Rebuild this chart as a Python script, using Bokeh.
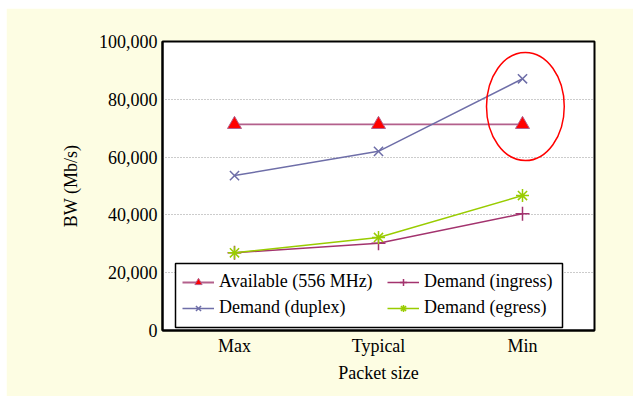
from bokeh.plotting import figure
from bokeh.models import (Legend, LegendItem, NumeralTickFormatter, FixedTicker,
                          FactorRange, Range1d, BoxAnnotation)
from bokeh.embed import file_html
from bokeh.resources import INLINE

categories = ["Max", "Typical", "Min"]
available = [71300, 71300, 71300]
duplex = [53600, 62000, 87100]
ingress = [26900, 30200, 40400]
egress = [26900, 32200, 46700]
y_ticks = [0, 20000, 40000, 60000, 80000, 100000]
highlight_x = [("Min", 0.02)]
highlight_y = [77500]
highlight_w = [0.54]
highlight_h = [37400]

FONT = "Liberation Serif"
BG = "#fdfde3"

p = figure(width=627, height=388, x_range=FactorRange(*categories, range_padding=0),
           y_range=Range1d(0, 100000), output_backend="svg", toolbar_location=None,
           min_border_left=156, min_border_right=39, min_border_top=33, min_border_bottom=66)
p.styles = {"margin-left": "6px", "margin-top": "8px"}
p.background_fill_color = "white"
p.border_fill_color = BG
p.outline_line_color = "black"
p.outline_line_width = 2

p.xgrid.grid_line_color = None
p.ygrid.grid_line_color = "#999999"
p.ygrid.grid_line_dash = "1 2"
p.ygrid.grid_line_width = 1
p.yaxis.ticker = FixedTicker(ticks=y_ticks)
p.yaxis.formatter = NumeralTickFormatter(format="0,0")

for ax in (p.xaxis[0], p.yaxis[0]):
    ax.axis_line_color = "black"
    ax.axis_line_width = 2
    ax.major_tick_line_color = None
    ax.minor_tick_line_color = None
    ax.major_tick_out = 0
    ax.major_tick_in = 0
    ax.minor_tick_out = 0
    ax.major_label_text_font = FONT
    ax.major_label_text_font_size = "18px"
    ax.major_label_text_color = "black"
    ax.axis_label_text_font = FONT
    ax.axis_label_text_font_size = "18px"
    ax.axis_label_text_font_style = "normal"
    ax.axis_label_text_color = "black"

p.xaxis.axis_label = "Packet size"
p.yaxis.axis_label = "BW (Mb/s)"
p.xaxis.major_label_standoff = 5
p.yaxis.major_label_standoff = 5
p.xaxis.axis_label_standoff = 4
p.yaxis.axis_label_standoff = 15

c_av = "#b3608c"
c_du = "#6e6ea8"
c_in = "#a3336e"
c_eg = "#99cc00"

l1 = p.line(categories, available, line_color=c_av, line_width=1.8)
m1 = p.scatter(categories, available, marker="triangle", size=14, fill_color="#ff0000",
               line_color=c_av, line_width=1)
l2 = p.line(categories, duplex, line_color=c_du, line_width=1.5)
m2 = p.scatter(categories, duplex, marker="x", size=13, line_color=c_du, line_width=1.5)
l3 = p.line(categories, ingress, line_color=c_in, line_width=1.5)
m3 = p.scatter(categories, ingress, marker="cross", size=14, line_color=c_in, line_width=1.5)
l4 = p.line(categories, egress, line_color=c_eg, line_width=1.5)
m4 = p.scatter(categories, egress, marker="asterisk", size=13, line_color=c_eg, line_width=1.5)

p.ellipse(x=highlight_x, y=highlight_y, width=highlight_w, height=highlight_h,
          fill_color=None, line_color="#ff0000", line_width=1.5)

# legend frame (screen units: pixels from the frame's bottom-left corner)
box = BoxAnnotation(left=13, right=400, bottom=3, top=67,
                    left_units="screen", right_units="screen",
                    top_units="screen", bottom_units="screen",
                    fill_color="white", fill_alpha=1,
                    line_color="black", line_width=1.5, line_alpha=1)
p.add_layout(box)


def make_legend(items, loc):
    lg = Legend(items=items, location=loc)
    lg.label_text_font = FONT
    lg.label_text_font_size = "18px"
    lg.label_text_color = "black"
    lg.border_line_color = None
    lg.background_fill_alpha = 0
    lg.glyph_width = 32
    lg.glyph_height = 18
    lg.label_standoff = 5
    lg.spacing = 5
    lg.padding = 4
    lg.margin = 0
    lg.label_height = 18
    return lg


leg1 = make_legend([
    LegendItem(label="Available (556 MHz)", renderers=[l1, m1]),
    LegendItem(label="Demand (duplex)", renderers=[l2, m2]),
], (20, 12))
leg2 = make_legend([
    LegendItem(label="Demand (ingress)", renderers=[l3, m3]),
    LegendItem(label="Demand (egress)", renderers=[l4, m4]),
], (225, 12))
p.add_layout(leg1, "center")
p.add_layout(leg2, "center")

open("out.html", "w").write(file_html(p, INLINE))
